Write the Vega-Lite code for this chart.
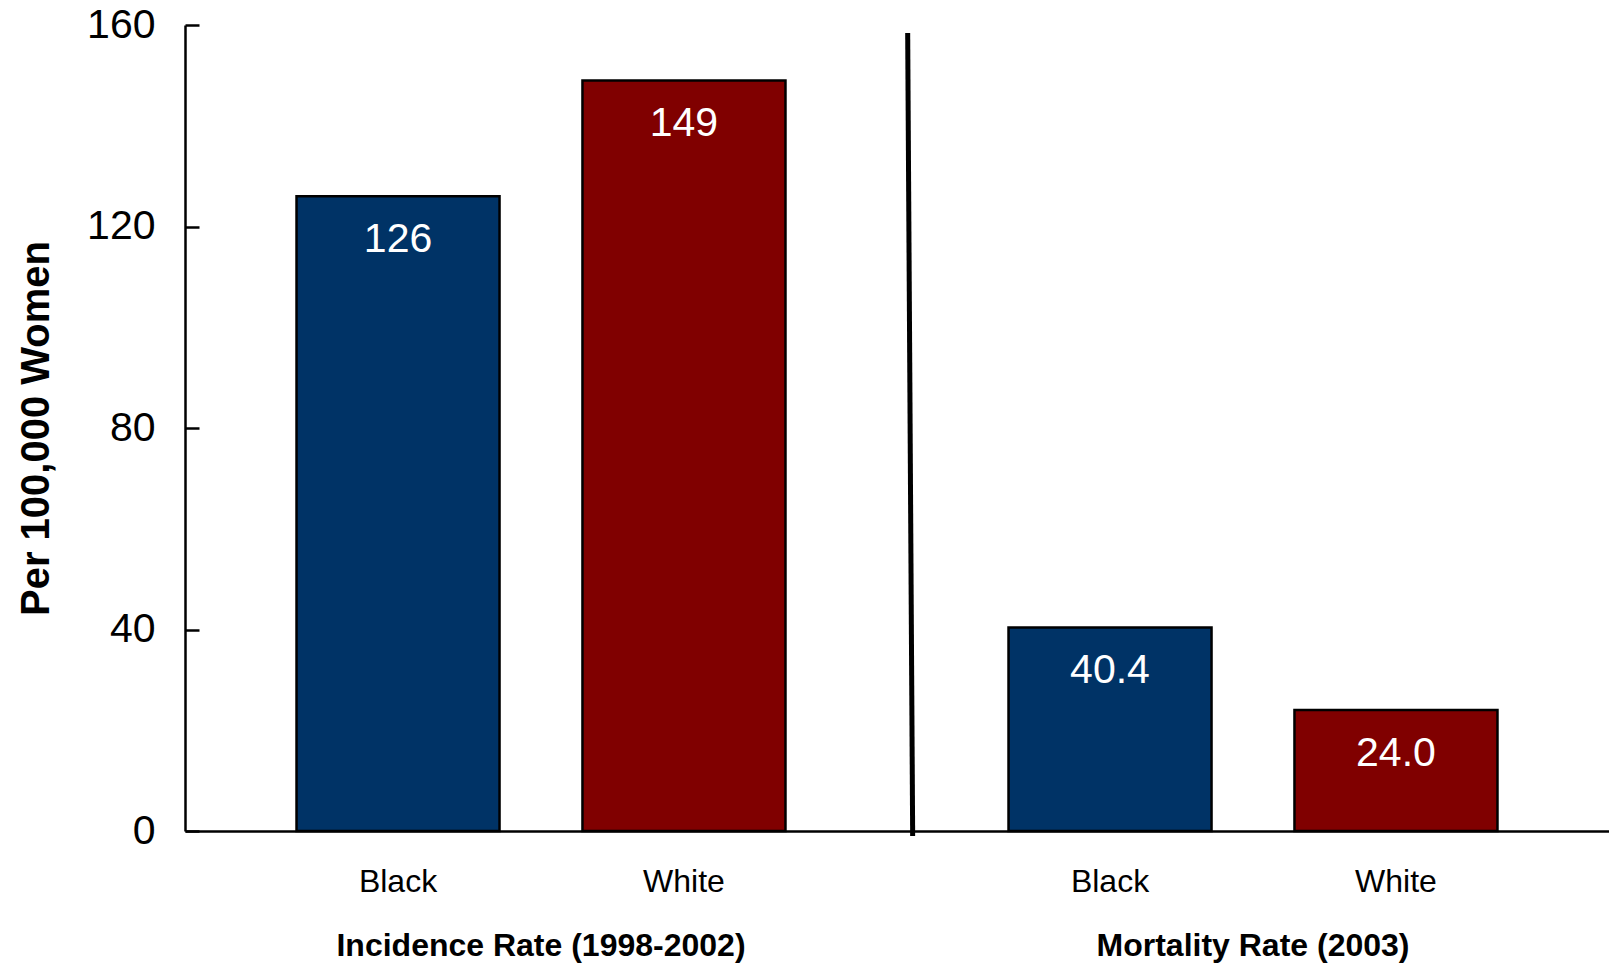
{
  "$schema": "https://vega.github.io/schema/vega-lite/v6.json",
  "width": 1424,
  "height": 806,
  "autosize": {"type": "none"},
  "padding": {"left": 185, "top": 25, "right": 0, "bottom": 138},
  "config": {"view": {"stroke": null}, "font": "Liberation Sans"},
  "datasets": {
    "rates": [
      {"group": "Incidence Rate (1998-2002)", "race": "Black", "value": 126, "label": "126"},
      {"group": "Incidence Rate (1998-2002)", "race": "White", "value": 149, "label": "149"},
      {"group": "Mortality Rate (2003)", "race": "Black", "value": 40.4, "label": "40.4"},
      {"group": "Mortality Rate (2003)", "race": "White", "value": 24.0, "label": "24.0"}
    ],
    "divider": [{"name": "divider"}]
  },
  "layer": [
    {
      "data": {"name": "rates"},
      "mark": {"type": "bar", "stroke": "#000000", "strokeWidth": 2.5},
      "encoding": {
        "x": {
          "field": "group", "type": "nominal",
          "scale": {"domain": ["Incidence Rate (1998-2002)", "Mortality Rate (2003)"], "paddingInner": 0, "paddingOuter": 0},
          "axis": {
            "title": null, "ticks": false, "labelAngle": 0, "labelLimit": 0,
            "labelFontSize": 32, "labelFontWeight": "bold", "labelColor": "#000000",
            "labelPadding": 124, "labelBaseline": "alphabetic",
            "domainColor": "#000000", "domainWidth": 2.5
          }
        },
        "xOffset": {
          "field": "race", "type": "nominal",
          "scale": {"domain": ["Black", "White"], "paddingInner": 0.29, "paddingOuter": 0.39}
        },
        "y": {
          "field": "value", "type": "quantitative",
          "scale": {"domain": [0, 160], "nice": false},
          "axis": {
            "title": "Per 100,000 Women", "values": [0, 40, 80, 120, 160],
            "grid": false, "labelFontSize": 41, "labelColor": "#000000",
            "tickSize": -14, "tickWidth": 2.5, "tickColor": "#000000",
            "labelPadding": 44,
            "domainColor": "#000000", "domainWidth": 2.5,
            "titleFontSize": 40, "titleFontWeight": "bold", "titleColor": "#000000",
            "titleX": -137, "titleY": 403, "titleBaseline": "alphabetic"
          }
        },
        "color": {
          "field": "race", "type": "nominal",
          "scale": {"domain": ["Black", "White"], "range": ["#003366", "#800000"]},
          "legend": null
        }
      }
    },
    {
      "data": {"name": "rates"},
      "mark": {"type": "text", "color": "#ffffff", "fontSize": 41, "baseline": "alphabetic", "dy": 56},
      "encoding": {
        "x": {"field": "group", "type": "nominal"},
        "xOffset": {"field": "race", "type": "nominal"},
        "y": {"field": "value", "type": "quantitative"},
        "text": {"field": "label"}
      }
    },
    {
      "data": {"name": "rates"},
      "mark": {"type": "text", "color": "#000000", "fontSize": 32, "baseline": "alphabetic", "dy": 61},
      "encoding": {
        "x": {"field": "group", "type": "nominal"},
        "xOffset": {"field": "race", "type": "nominal"},
        "y": {"datum": 0},
        "text": {"field": "race"}
      }
    },
    {
      "data": {"name": "divider"},
      "mark": {"type": "rule", "color": "#000000", "strokeWidth": 5},
      "encoding": {
        "x": {"datum": "Mortality Rate (2003)", "bandPosition": 0.015},
        "x2": {"datum": "Mortality Rate (2003)", "bandPosition": 0.022},
        "y": {"datum": 158.4},
        "y2": {"datum": -1}
      }
    }
  ]
}
